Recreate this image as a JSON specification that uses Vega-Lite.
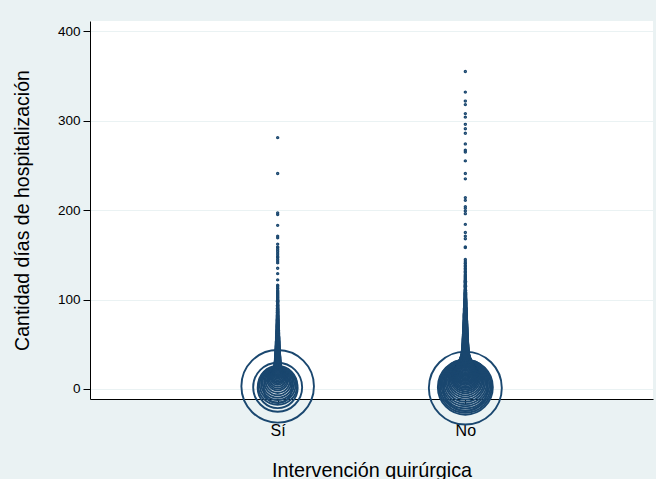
{
  "$schema": "https://vega.github.io/schema/vega-lite/v6.json",
  "width": 563,
  "height": 378,
  "autosize": {"type": "none"},
  "padding": {"left": 90, "top": 21, "right": 3, "bottom": 80},
  "background": "#eaf2f3",
  "config": {
    "font": "Liberation Sans",
    "view": {"fill": "white", "stroke": null}
  },
  "datasets": {
    "si": [
      [0,294],[1,600],[2,900],[3,1977],[4,570],[5,486],[6,408],[7,338],[8,273],[9,216],[10,165],[11,135],[12,108],[13,84],[14,69],[15,58],[16,47],[17,39],[18,33],[19,29],[20,27],[21,25],[22,23],[23,21],[24,20],[25,19],[26,18],[27,17],[28,16],[29,15],[30,14],[31,13],[32,13],[33,12],[34,12],[35,11],[36,11],[37,10],[38,10],[39,9],[40,9],[41,9],[42,8],[43,8],[44,8],[45,7],[46,7],[47,7],[48,7],[49,6],[50,6],[51,6],[52,6],[53,6],[54,5],[55,5],[56,5],[57,5],[58,5],[59,4],[60,4],[61,4],[62,4],[63,4],[64,3],[65,4],[66,3],[67,3],[68,3],[69,3],[70,3],[71,3],[72,3],[73,2],[74,3],[75,2],[76,2],[77,3],[78,2],[79,2],[80,2],[81,2],[82,2],[83,2],[84,1],[85,2],[86,2],[87,1],[88,2],[89,1],[90,2],[91,1],[92,1],[93,2],[94,1],[95,1],[96,1],[97,1],[98,2],[99,1],[100,1],[101,1],[102,1],[103,1],[104,1],[105,1],[106,1],[107,1],[108,1],[109,1],[110,1],[112,1],[113,1],[115,1],[116,1],[122,1],[129,1],[135,1],[141,1],[143,1],[145,1],[147,1],[148,1],[150,1],[152,1],[154,1],[156,1],[158,1],[159,1],[162,1],[169,1],[171,1],[183,1],[195,1],[197,1],[241,1],[281,1]
    ],
    "no": [
      [0,726],[1,1998],[2,1134],[3,1053],[4,960],[5,864],[6,773],[7,687],[8,600],[9,525],[10,454],[11,394],[12,338],[13,294],[14,261],[15,234],[16,212],[17,192],[18,175],[19,159],[20,147],[21,135],[22,124],[23,116],[24,108],[25,101],[26,91],[27,82],[28,74],[29,65],[30,58],[31,52],[32,47],[33,42],[34,38],[35,33],[36,30],[37,28],[38,25],[39,23],[40,22],[41,21],[42,20],[43,19],[44,18],[45,17],[46,16],[47,16],[48,15],[49,14],[50,14],[51,13],[52,13],[53,12],[54,12],[55,12],[56,11],[57,11],[58,11],[59,10],[60,10],[61,10],[62,9],[63,9],[64,9],[65,8],[66,8],[67,8],[68,8],[69,7],[70,7],[71,7],[72,7],[73,6],[74,6],[75,6],[76,6],[77,5],[78,5],[79,5],[80,5],[81,5],[82,5],[83,5],[84,5],[85,4],[86,4],[87,4],[88,4],[89,4],[90,4],[91,3],[92,3],[93,3],[94,3],[95,3],[96,3],[97,3],[98,3],[99,2],[100,3],[101,2],[102,2],[103,2],[104,2],[105,2],[106,2],[107,2],[108,2],[109,1],[110,2],[111,1],[112,1],[113,1],[114,1],[115,2],[116,1],[117,1],[118,1],[119,1],[120,2],[121,1],[122,1],[123,1],[124,1],[125,1],[126,1],[127,1],[128,1],[130,1],[131,1],[132,1],[134,1],[135,1],[137,1],[138,1],[140,1],[141,1],[143,1],[145,1],[158,1],[159,1],[168,1],[171,1],[175,1],[184,1],[196,1],[199,1],[202,1],[204,1],[211,1],[214,1],[235,1],[241,1],[255,1],[265,1],[267,1],[274,1],[286,1],[291,1],[296,1],[304,1],[308,1],[318,1],[322,1],[332,1],[355,1]
    ]
  },
  "layer": [
    {
      "data": {"name": "si"},
      "transform": [
        {"calculate": "datum[0]", "as": "dias"},
        {"calculate": "datum[1]", "as": "n"},
        {"calculate": "'Sí'", "as": "cirugia"}
      ],
      "mark": {"type": "point", "shape": "circle", "filled": false, "strokeWidth": 1.9, "color": "#1a476f", "opacity": 1},
      "encoding": {
        "x": {"field": "cirugia", "type": "nominal", "sort": ["Sí", "No"],
          "scale": {"type": "point", "domain": ["Sí", "No"], "padding": 1.061},
          "axis": {"title": "Intervención quirúrgica", "labelAngle": 0, "labelFontSize": 16, "labelColor": "#000", "labelPadding": 18, "tickSize": 5, "tickColor": "#000", "domainColor": "#000", "domainWidth": 1, "grid": false, "titleFontSize": 19.8, "titleFontWeight": "normal", "titleColor": "#000", "titleBaseline": "alphabetic", "titleY": 77, "titleX": 281.5}},
        "y": {"field": "dias", "type": "quantitative",
          "scale": {"domain": [-11.2, 411.5], "nice": false, "zero": false},
          "axis": {"title": "Cantidad días de hospitalización", "values": [0, 100, 200, 300, 400], "labelFontSize": 13.5, "labelColor": "#000", "labelPadding": 3, "tickSize": 7, "tickColor": "#000", "domainColor": "#000", "domainWidth": 1, "grid": true, "gridColor": "#eaf2f3", "gridWidth": 1, "titleFontSize": 19.5, "titleFontWeight": "normal", "titleColor": "#000", "titleAngle": -90, "titleAlign": "center", "titleBaseline": "alphabetic", "titleX": -62, "titleY": 189}},
        "size": {"field": "n", "type": "quantitative", "scale": {"domain": [1, 2000], "range": [2, 5329], "zero": false}, "legend": null}
      }
    },
    {
      "data": {"name": "no"},
      "transform": [
        {"calculate": "datum[0]", "as": "dias"},
        {"calculate": "datum[1]", "as": "n"},
        {"calculate": "'No'", "as": "cirugia"}
      ],
      "mark": {"type": "point", "shape": "circle", "filled": false, "strokeWidth": 1.9, "color": "#1a476f", "opacity": 1},
      "encoding": {
        "x": {"field": "cirugia", "type": "nominal"},
        "y": {"field": "dias", "type": "quantitative"},
        "size": {"field": "n", "type": "quantitative"}
      }
    }
  ]
}
